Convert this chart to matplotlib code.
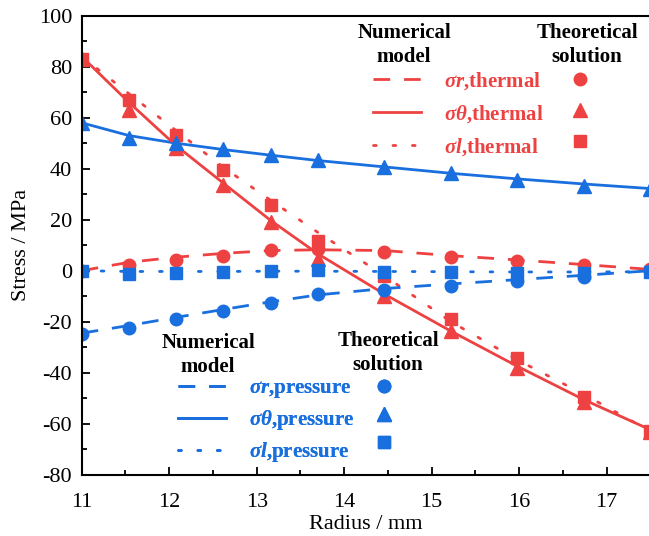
import matplotlib
matplotlib.use("Agg")
import matplotlib.pyplot as plt
from matplotlib.lines import Line2D

plt.rcParams['font.family'] = ['Liberation Serif', 'DejaVu Serif']
plt.rcParams['mathtext.fontset'] = 'custom'
plt.rcParams['mathtext.rm'] = 'Liberation Serif:bold'
plt.rcParams['mathtext.it'] = 'Liberation Serif:italic:bold'
plt.rcParams['mathtext.bf'] = 'Liberation Serif:bold'
plt.rcParams['axes.unicode_minus'] = False

ROJO = '#EE4242'
AZUL = '#1A6FDF'

# radios (mm)
radio = [11, 11.54, 12.08, 12.62, 13.16, 13.7, 14.46, 15.22, 15.98, 16.74, 17.5]

# modelo numerico (lineas)
sr_term_num = [0, 3.3, 5.3, 6.8, 7.9, 8.2, 7.9, 5.9, 4.2, 2.4, 0.5]
st_term_num = [84, 66, 49, 34.3, 19.7, 6.6, -9.2, -23.7, -37.5, -50.6, -62.4]
sl_term_num = [84, 69.4, 54.9, 40.5, 27.6, 15, -2, -20, -35, -48.5, -63]
sr_pres_num = [-24.5, -21.5, -18.3, -15.2, -12.2, -9.5, -7, -5.2, -3.5, -1.8, 0]
st_pres_num = [58, 53, 50, 47.5, 45.3, 43.2, 40.7, 38.2, 36, 34, 32.2]
sl_pres_num = [0, -0.3, -0.3, -0.3, -0.2, -0.2, -0.3, -0.4, -0.5, -0.5, -0.4]

# solucion teorica (marcadores)
sr_term_teo = [0, 2.4, 4.2, 5.9, 8.2, 8.5, 7.2, 5.5, 3.9, 2.4, 0.5]
st_term_teo = [83, 63.2, 48, 33.6, 19.1, 4.6, -9.9, -23.7, -38.2, -51.3, -63.2]
sl_term_teo = [83, 67.1, 53.3, 39.5, 25.7, 11.8, -2, -18.8, -34.2, -49.7, -63]
sr_pres_teo = [-25, -22.4, -19.1, -15.8, -12.5, -9.2, -7.6, -5.9, -3.9, -2.6, 0]
st_pres_teo = [58, 52, 50, 47.8, 45.4, 43.4, 40.8, 38.2, 35.5, 33.2, 32.2]
sl_pres_teo = [0, -1.3, -1, -0.6, 0, 0.4, -0.6, -0.6, -1, -1, -0.6]

DASH = (0, (6, 5))
DOT = (0, (1, 6))

fig = plt.figure(figsize=(6.49, 5.36), dpi=100)
ax = fig.add_axes([0.1259, 0.1144, 0.8763, 0.8563])

lw = 2
ax.plot(radio, sr_term_num, color=ROJO, lw=lw, linestyle=DASH)
ax.plot(radio, st_term_num, color=ROJO, lw=lw, linestyle='-')
ax.plot(radio, sl_term_num, color=ROJO, lw=lw, linestyle=DOT, dash_capstyle='round')
ax.plot(radio, sr_pres_num, color=AZUL, lw=lw, linestyle=DASH)
ax.plot(radio, st_pres_num, color=AZUL, lw=lw, linestyle='-')
ax.plot(radio, sl_pres_num, color=AZUL, lw=lw, linestyle=DOT, dash_capstyle='round')

ax.plot(radio, sr_term_teo, 'o', color=ROJO, ms=9, ls='none')
ax.plot(radio, st_term_teo, '^', color=ROJO, ms=10, ls='none')
ax.plot(radio, sl_term_teo, 's', color=ROJO, ms=8.5, ls='none')
ax.plot(radio, sr_pres_teo, 'o', color=AZUL, ms=9, ls='none')
ax.plot(radio, st_pres_teo, '^', color=AZUL, ms=10, ls='none')
ax.plot(radio, sl_pres_teo, 's', color=AZUL, ms=8.5, ls='none')

ax.set_xlim(11, 17.5)
ax.set_ylim(-80, 100)
ax.set_xticks([11, 12, 13, 14, 15, 16, 17])
ax.set_xticks([11.5, 12.5, 13.5, 14.5, 15.5, 16.5, 17.5], minor=True)
ax.set_yticks(range(-80, 101, 20))
ax.set_yticks(range(-70, 100, 20), minor=True)
ax.tick_params(axis='both', which='major', direction='in', length=6, width=1.3, labelsize=16)
ax.tick_params(axis='x', which='major', pad=13)
ax.tick_params(axis='y', which='major', pad=7)
ax.tick_params(axis='both', which='minor', direction='in', length=3.5, width=1.3)
for s in ax.spines.values():
    s.set_linewidth(1.5)
ax.set_xlabel('Radius / mm', fontsize=16, labelpad=2)
ax.set_ylabel('Stress / MPa', fontsize=16)
ax.yaxis.set_label_coords(-0.09, 0.5)


def hacer_leyenda(color, sufijo, loc_ancla, espacio_col, espacio_fila):
    lineas = [Line2D([], [], color=color, lw=lw, linestyle=DASH),
              Line2D([], [], color=color, lw=lw, linestyle='-'),
              Line2D([], [], color=color, lw=lw, linestyle=DOT, dash_capstyle='round')]
    marcas = [Line2D([], [], color=color, marker='o', ms=9, ls='none'),
              Line2D([], [], color=color, marker='^', ms=10, ls='none'),
              Line2D([], [], color=color, marker='s', ms=8.5, ls='none')]
    textos = [r'$\sigma r$,' + sufijo, r'$\sigma\theta$,' + sufijo, r'$\sigma l$,' + sufijo]
    leg = ax.legend(lineas + marcas, textos + ['', '', ''], ncol=2, frameon=False,
                    loc='upper left', bbox_to_anchor=loc_ancla, bbox_transform=fig.transFigure,
                    prop={'size': 15, 'weight': 'bold'}, labelcolor=color,
                    handlelength=2.3, handletextpad=1.1, columnspacing=espacio_col,
                    labelspacing=espacio_fila, borderpad=0, borderaxespad=0)
    ax.add_artist(leg)
    return leg


hacer_leyenda(ROJO, 'thermal', (373 / 649, 1 - 70 / 536), 0.6, 0.53)
hacer_leyenda(AZUL, 'pressure', (178 / 649, 1 - 378 / 536), 0.26, 0.39)

cab = dict(fontsize=15, fontweight='bold', ha='center', va='center', transform=fig.transFigure,
           linespacing=1.2)
fig.text(404 / 649, 1 - 45 / 536, 'Numerical\nmodel', **cab)
fig.text(587 / 649, 1 - 45 / 536, 'Theoretical\nsolution', **cab)
fig.text(208 / 649, 1 - 355 / 536, 'Numerical\nmodel', **cab)
fig.text(388 / 649, 1 - 353 / 536, 'Theoretical\nsolution', **cab)

fig.savefig('out.png', dpi=100)
